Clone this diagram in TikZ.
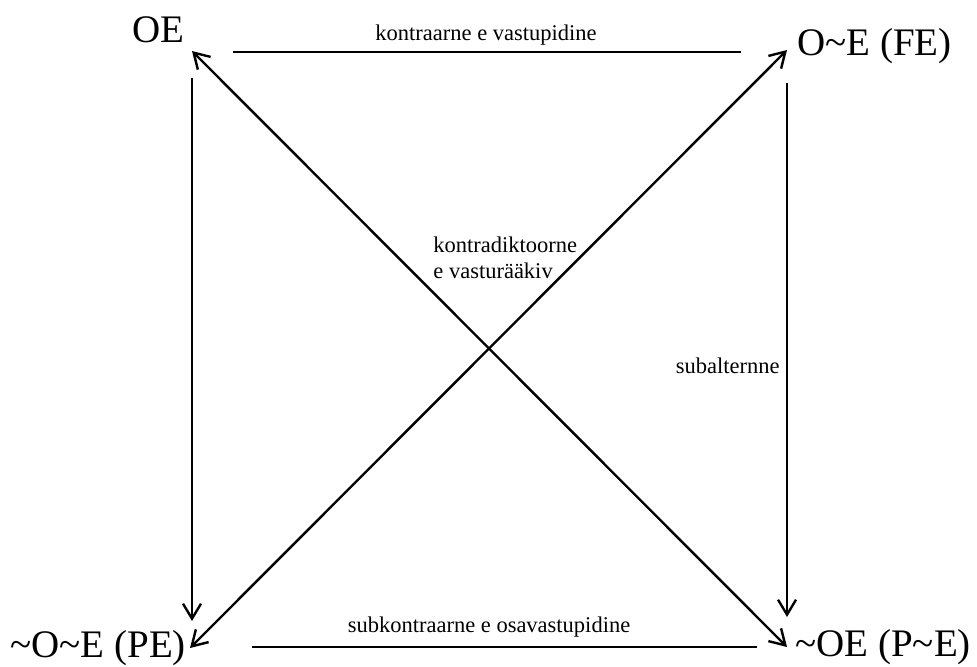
\documentclass[tikz,border=0pt]{standalone}
\usepackage{fontspec}
\setmainfont{Liberation Serif}
\usetikzlibrary{arrows.meta}

\begin{document}
\begin{tikzpicture}[x=0.5pt, y=-0.5pt, >={Straight Barb[length=7.5pt, width=9pt]},
    corner/.style={inner sep=0pt, font=\rmfamily\fontsize{19.5}{23}\selectfont},
    rel/.style={inner sep=0pt, font=\rmfamily\fontsize{11.25}{13}\selectfont},
    link/.style={line width=1.2pt}]

    % ==========================================
    % 1. FRAME
    % ==========================================
    \useasboundingbox (0, 0) rectangle (977, 666);

    % ==========================================
    % 2. CORNERS OF THE SQUARE
    % ==========================================
    \node[corner, anchor=base]      (oe)   at (158, 42)  {OE};
    \node[corner, anchor=base west] (fe)   at (797, 55)  {O\textasciitilde E (FE)};
    \node[corner, anchor=base west] (pe)   at (10, 657)  {\textasciitilde O\textasciitilde E (PE)};
    \node[corner, anchor=base west] (pne)  at (795, 656) {\textasciitilde OE (P\textasciitilde E)};

    % ends of the connectors next to each corner
    \coordinate (oe-r)  at (233, 52);
    \coordinate (oe-d)  at (192, 78);
    \coordinate (oe-x)  at (192, 51);
    \coordinate (fe-l)  at (741, 52);
    \coordinate (fe-d)  at (787, 83);
    \coordinate (fe-x)  at (787, 50);
    \coordinate (pe-u)  at (192, 621);
    \coordinate (pe-r)  at (252, 647);
    \coordinate (pe-x)  at (190, 648);
    \coordinate (pne-u) at (787, 617);
    \coordinate (pne-l) at (757, 647);
    \coordinate (pne-x) at (787, 647);

    % ==========================================
    % 3. SIDES
    % ==========================================
    \draw[link] (oe-r) -- (fe-l);
    \draw[link] (pe-r) -- (pne-l);
    \draw[link, ->] (oe-d) -- (pe-u);
    \draw[link, ->] (fe-d) -- (pne-u);

    % ==========================================
    % 4. DIAGONALS
    % ==========================================
    \draw[link, <->] (oe-x) -- (pne-x);
    \draw[link, <->] (pe-x) -- (fe-x);

    % ==========================================
    % 5. RELATION NAMES
    % ==========================================
    \node[rel, anchor=base] (contrary)    at (486, 40)  {kontraarne e vastupidine};
    \node[rel, anchor=base] (subcontrary) at (489, 632) {subkontraarne e osavastupidine};
    \node[rel, anchor=base east] (subaltern) at (780, 373) {subalternne};
    \node[rel, anchor=base west] (contradictory) at (433, 252) {kontradiktoorne};
    \node[rel, anchor=base west] (contradictory2) at (433, 278) {e vasturääkiv};

\end{tikzpicture}
\end{document}
